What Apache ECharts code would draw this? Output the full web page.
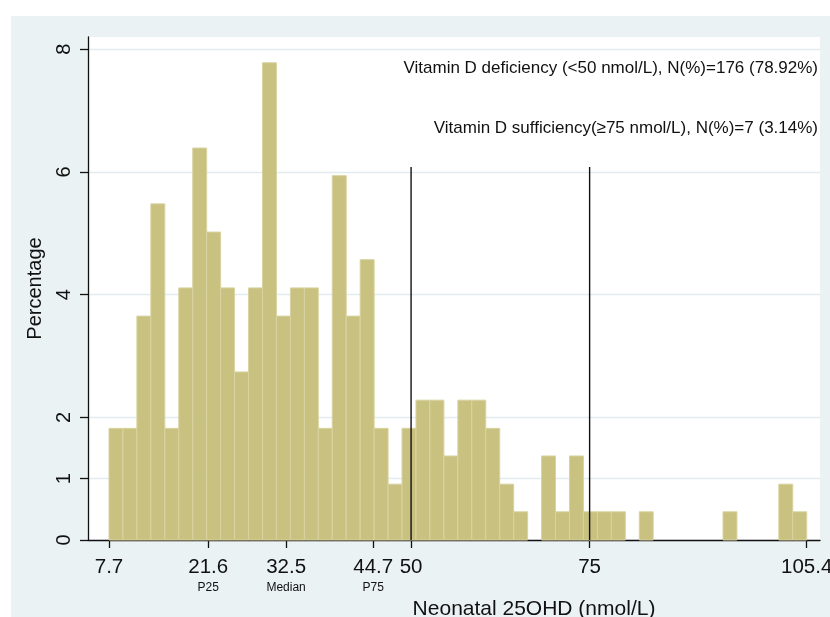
<!DOCTYPE html>
<html>
<head>
<meta charset="utf-8">
<script src="https://cdn.jsdelivr.net/npm/echarts@6/dist/echarts.min.js"></script>
<style>
html,body{margin:0;padding:0;background:#fff;}
#chart{width:830px;height:617px;}
</style>
</head>
<body>
<div id="chart"></div>
<script>
// ---- data ----
const binStart = 7.7;
const binWidth = 1.954;
const percentages = [1.82, 1.82, 3.65, 5.48, 1.82, 4.11, 6.39, 5.02, 4.11, 2.74,
                     4.11, 7.78, 3.65, 4.11, 4.11, 1.82, 5.94, 3.65, 4.57, 1.82,
                     0.91, 1.82, 2.28, 2.28, 1.37, 2.28, 2.28, 1.82, 0.91, 0.46,
                     0, 1.37, 0.46, 1.37, 0.46, 0.46, 0.46, 0, 0.46, 0,
                     0, 0, 0, 0, 0.46, 0, 0, 0, 0.91, 0.46];
const xTickValues = [7.7, 21.6, 32.5, 44.7, 50, 75, 105.4];
const xTickSubLabels = {21.6: 'P25', 32.5: 'Median', 44.7: 'P75'};
const yTickValues = [0, 1, 2, 4, 6, 8];
const cutoffs = [50, 75];
const cutoffTop = 6.08;
const annotations = [
  'Vitamin D deficiency (<50 nmol/L), N(%)=176 (78.92%)',
  'Vitamin D sufficiency(\u226575 nmol/L), N(%)=7 (3.14%)'
];
const xTitle = 'Neonatal 25OHD (nmol/L)';
const yTitle = 'Percentage';

// ---- build ----
const FONT = '"Liberation Sans", Arial, sans-serif';
const histData = percentages.map((p, i) => [binStart + i * binWidth, binStart + (i + 1) * binWidth, p]);

const chart = echarts.init(document.getElementById('chart'), null, {renderer: 'canvas'});

const cutoffSeries = cutoffs.map(c => ({
  type: 'line',
  data: [[c, 0], [c, cutoffTop]],
  symbol: 'none',
  silent: true,
  z: 5,
  lineStyle: {color: '#111', width: 1.4}
}));

const option = {
  animation: false,
  backgroundColor: '#fff',
  graphic: [
    {type: 'rect', left: 11, top: 16, shape: {width: 819, height: 601}, style: {fill: '#EAF2F3'}, z: -10, silent: true},
    {type: 'text', right: 12, top: 60, style: {text: annotations[0], font: '17px ' + FONT, fill: '#111'}, z: 10},
    {type: 'text', right: 12, top: 120, style: {text: annotations[1], font: '17px ' + FONT, fill: '#111'}, z: 10}
  ],
  grid: {left: 88, right: 10, top: 37, bottom: 77, show: true, backgroundColor: '#fff', borderWidth: 0,
         containLabel: false, outerBoundsMode: 'none'},
  xAxis: {
    type: 'value',
    min: 4.76,
    max: 107.26,
    name: xTitle,
    nameLocation: 'middle',
    nameGap: 57,
    nameTextStyle: {fontFamily: FONT, fontSize: 21, color: '#111', padding: [0, 0, 0, 160]},
    axisLine: {show: true, onZero: false, lineStyle: {color: '#111', width: 1.3}},
    axisTick: {show: true, length: 8, customValues: xTickValues, lineStyle: {color: '#111', width: 1.3}},
    splitLine: {show: false},
    axisLabel: {
      customValues: xTickValues,
      margin: 15,
      formatter: v => {
        const key = String(v);
        const sub = xTickSubLabels[key];
        return sub ? '{v|' + key + '}\n{s|' + sub + '}' : '{v|' + key + '}';
      },
      rich: {
        v: {fontFamily: FONT, fontSize: 20.5, color: '#111', lineHeight: 24},
        s: {fontFamily: FONT, fontSize: 12, color: '#111', lineHeight: 18}
      }
    }
  },
  yAxis: {
    type: 'value',
    min: 0,
    max: 8.2,
    name: yTitle,
    nameLocation: 'middle',
    nameGap: 43,
    nameTextStyle: {fontFamily: FONT, fontSize: 20, color: '#111'},
    axisLine: {show: true, lineStyle: {color: '#111', width: 1.3}},
    axisTick: {show: true, length: 8, customValues: yTickValues, lineStyle: {color: '#111', width: 1.3}},
    axisLabel: {customValues: yTickValues, rotate: 90, margin: 14, fontFamily: FONT, fontSize: 20, color: '#111'},
    splitLine: {show: true, lineStyle: {color: '#E1ECEE', width: 1.3}}
  },
  series: [
    {
      type: 'custom',
      z: 2,
      silent: true,
      data: histData,
      encode: {x: [0, 1], y: 2},
      renderItem: (params, api) => {
        const p0 = api.coord([api.value(0), api.value(2)]);
        const p1 = api.coord([api.value(1), 0]);
        if (api.value(2) <= 0) return null;
        return {
          type: 'rect',
          shape: {x: p0[0], y: p0[1], width: p1[0] - p0[0], height: p1[1] - p0[1]},
          style: {fill: '#C9C17F', stroke: '#D9D3A2', lineWidth: 1}
        };
      }
    },
    ...cutoffSeries
  ]
};
chart.setOption(option);
</script>
</body>
</html>
